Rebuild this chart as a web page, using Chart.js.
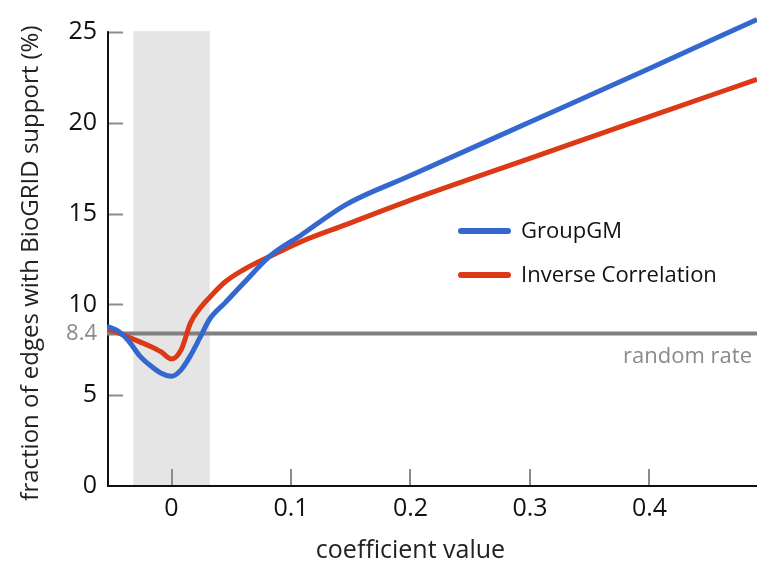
<!DOCTYPE html>
<html>
<head>
<meta charset="utf-8">
<script src="https://cdn.jsdelivr.net/npm/chart.js@4.4.1/dist/chart.umd.min.js"></script>
<style>
  html, body { margin: 0; padding: 0; background: #fff; }
  #wrap { width: 757px; height: 565px; }
  canvas { display: block; }
</style>
</head>
<body>
<div id="wrap"><canvas id="chart" width="757" height="565"></canvas></div>
<script>
// Coefficient values where both curves are sampled
const coefficients = [-0.054, -0.045, -0.036, -0.027, -0.018, -0.009, 0, 0.008, 0.016, 0.024, 0.032, 0.045, 0.06, 0.083, 0.108, 0.146, 0.2, 0.3, 0.4, 0.49];
// Fraction of edges with BioGRID support (%)
const groupGM =            [8.8, 8.55, 8.0, 7.2, 6.65, 6.23, 6.05, 6.4, 7.2, 8.2, 9.2, 10.1, 11.15, 12.7, 13.8, 15.5, 17.1, 20.05, 23.0, 25.7];
const inverseCorrelation = [8.65, 8.45, 8.2, 7.95, 7.7, 7.4, 7.0, 7.5, 9.0, 9.8, 10.4, 11.25, 11.9, 12.67, 13.45, 14.4, 15.75, 18.05, 20.35, 22.4];
const seriesNames = ['GroupGM', 'Inverse Correlation'];
const randomRate = 8.4;
const xTicks = [0, 0.1, 0.2, 0.3, 0.4];
const yTicks = [0, 5, 10, 15, 20, 25];
const shadedBand = [-0.032, 0.032];

const FONT = "'Open Sans', 'Noto Sans', sans-serif";
const BLUE = '#3468cf';
const RED = '#dc3a16';
const GREY = '#808080';

const toPoints = (ys) => coefficients.map((c, i) => ({ x: c, y: ys[i] }));

function line(ctx, x0, y0, x1, y1) {
  ctx.beginPath(); ctx.moveTo(x0, y0); ctx.lineTo(x1, y1); ctx.stroke();
}

const decor = {
  id: 'decor',
  beforeDatasetsDraw(chart) {
    const { ctx, scales: { x, y } } = chart;
    const yTop = y.getPixelForValue(yTicks[yTicks.length - 1]);
    const yBot = y.getPixelForValue(0);
    ctx.save();
    // shaded band around zero
    const b0 = x.getPixelForValue(shadedBand[0]);
    const b1 = x.getPixelForValue(shadedBand[1]);
    ctx.fillStyle = '#e5e5e5';
    ctx.fillRect(b0, yTop - 1, b1 - b0, yBot - yTop + 1);
    // inward tick marks
    ctx.strokeStyle = '#8c8c8c';
    ctx.lineWidth = 2;
    yTicks.forEach(v => {
      if (v === 0) return;
      const py = Math.round(y.getPixelForValue(v)) + 0.5;
      line(ctx, x.left, py, x.left + 16, py);
    });
    xTicks.forEach(v => {
      const px = Math.round(x.getPixelForValue(v));
      line(ctx, px, yBot, px, yBot - 17);
    });
    // axis lines
    ctx.strokeStyle = '#111';
    ctx.lineWidth = 2;
    line(ctx, x.left + 1, yTop - 1, x.left + 1, yBot + 1);
    line(ctx, x.left, yBot, x.right, yBot);
    ctx.restore();
  },
  afterDraw(chart) {
    const { ctx, scales: { x, y } } = chart;
    ctx.save();
    // legend
    const legendRows = [231, 275];
    chart.data.datasets.slice(0, 2).forEach((ds, i) => {
      ctx.strokeStyle = ds.borderColor;
      ctx.lineWidth = 6;
      ctx.lineCap = 'round';
      line(ctx, 461, legendRows[i], 508, legendRows[i]);
      ctx.fillStyle = '#111';
      ctx.font = `22px ${FONT}`;
      ctx.textAlign = 'left';
      ctx.textBaseline = 'middle';
      ctx.fillText(ds.label, 521, legendRows[i] + 1);
    });
    // random rate label
    ctx.fillStyle = '#8a8a8a';
    ctx.font = `22px ${FONT}`;
    ctx.textAlign = 'right';
    ctx.textBaseline = 'alphabetic';
    ctx.fillText('random rate', 752, y.getPixelForValue(randomRate) + 29);
    // axis titles
    ctx.fillStyle = '#222';
    ctx.font = `25px ${FONT}`;
    ctx.textAlign = 'center';
    ctx.fillText('coefficient value', x.getPixelForValue(0.2), 558);
    ctx.translate(38, (y.getPixelForValue(0) + y.getPixelForValue(25)) / 2 + 4);
    ctx.rotate(-Math.PI / 2);
    ctx.font = `24px ${FONT}`;
    ctx.fillText('fraction of edges with BioGRID support (%)', 0, 0);
    ctx.restore();
  }
};

new Chart(document.getElementById('chart'), {
  type: 'line',
  data: {
    datasets: [
      {
        label: seriesNames[0], data: toPoints(groupGM),
        borderColor: BLUE, borderWidth: 5, pointRadius: 0,
        cubicInterpolationMode: 'monotone', order: 0
      },
      {
        label: seriesNames[1], data: toPoints(inverseCorrelation),
        borderColor: RED, borderWidth: 5, pointRadius: 0,
        cubicInterpolationMode: 'monotone', order: 1
      },
      {
        label: 'random rate',
        data: [{ x: coefficients[0], y: randomRate }, { x: coefficients[coefficients.length - 1], y: randomRate }],
        borderColor: GREY, borderWidth: 4, pointRadius: 0, order: 2
      }
    ]
  },
  options: {
    responsive: false,
    animation: false,
    devicePixelRatio: 1,
    layout: { padding: { top: 14, right: 0, left: 0, bottom: 0 } },
    plugins: { legend: { display: false }, tooltip: { enabled: false } },
    scales: {
      x: {
        type: 'linear',
        min: coefficients[0], max: coefficients[coefficients.length - 1],
        afterBuildTicks: (s) => { s.ticks = xTicks.map(v => ({ value: v })); },
        afterFit: (s) => { s.height = 79; s.paddingLeft = 0; s.paddingRight = 0; },
        grid: { display: false, drawTicks: false },
        border: { display: false },
        ticks: {
          padding: 8,
          color: '#111',
          font: { family: FONT, size: 25 },
          maxRotation: 0,
          callback: (v) => (v === 0 ? '0' : v.toFixed(1))
        }
      },
      y: {
        type: 'linear',
        min: 0, max: 26,
        afterBuildTicks: (s) => { s.ticks = yTicks.concat([randomRate]).map(v => ({ value: v })); },
        afterFit: (s) => { s.width = 107; s.paddingTop = 0; s.paddingBottom = 0; },
        grid: { display: false, drawTicks: false },
        border: { display: false },
        ticks: {
          padding: 10,
          color: (c) => (c.tick && c.tick.value === randomRate ? '#8a8a8a' : '#111'),
          font: (c) => (c.tick && c.tick.value === randomRate
            ? { family: FONT, size: 22 }
            : { family: FONT, size: 25 }),
          callback: (v) => String(v)
        }
      }
    }
  },
  plugins: [decor]
});
</script>
</body>
</html>
